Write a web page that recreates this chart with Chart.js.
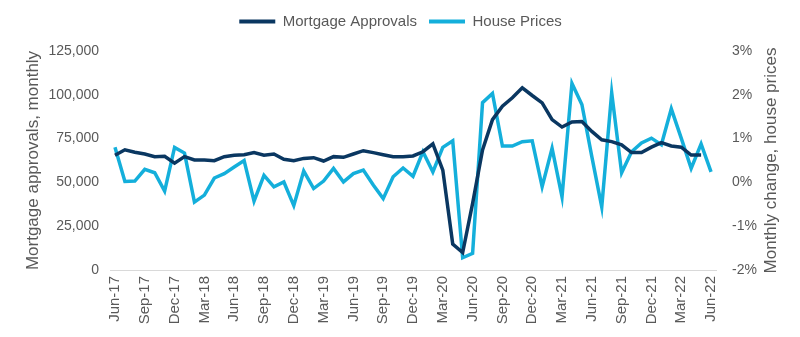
<!DOCTYPE html>
<html>
<head>
<meta charset="utf-8">
<script src="https://cdn.jsdelivr.net/npm/chart.js@4"></script>
<style>
    html, body { margin: 0; padding: 0; background: #fff; }
    #wrap { width: 800px; height: 337px; position: relative; }
</style>
</head>
<body>
<div id="wrap"><canvas id="housingChart"></canvas></div>
<script>
const months = [
    'Jun-17', 'Jul-17', 'Aug-17', 'Sep-17', 'Oct-17', 'Nov-17', 'Dec-17', 'Jan-18', 'Feb-18', 'Mar-18',
    'Apr-18', 'May-18', 'Jun-18', 'Jul-18', 'Aug-18', 'Sep-18', 'Oct-18', 'Nov-18', 'Dec-18', 'Jan-19',
    'Feb-19', 'Mar-19', 'Apr-19', 'May-19', 'Jun-19', 'Jul-19', 'Aug-19', 'Sep-19', 'Oct-19', 'Nov-19',
    'Dec-19', 'Jan-20', 'Feb-20', 'Mar-20', 'Apr-20', 'May-20', 'Jun-20', 'Jul-20', 'Aug-20', 'Sep-20',
    'Oct-20', 'Nov-20', 'Dec-20', 'Jan-21', 'Feb-21', 'Mar-21', 'Apr-21', 'May-21', 'Jun-21', 'Jul-21',
    'Aug-21', 'Sep-21', 'Oct-21', 'Nov-21', 'Dec-21', 'Jan-22', 'Feb-22', 'Mar-22', 'Apr-22', 'May-22',
    'Jun-22'
];

// mortgage approvals per month (no figure yet for Jun-22)
const approvals = [
    65500, 68600, 67200, 66200, 64700, 64900, 61000, 64700, 62800, 62800,
    62400, 64700, 65500, 65800, 67000, 65500, 66200, 63200, 62400, 63700,
    64100, 62200, 64700, 64300, 66200, 68100, 67000, 65800, 64700, 64700,
    65100, 67500, 72000, 57000, 14800, 10000, 38000, 68500, 85800, 93500,
    98300, 104000, 99600, 95400, 85800, 81600, 84500, 84800, 79100, 74300,
    73300, 71400, 67000, 67000, 70100, 72700, 70800, 70100, 65600, 65600,
    null
];

// monthly change in house prices, %
const housePrices = [
    0.80, 0.02, 0.03, 0.30, 0.22, -0.20, 0.80, 0.67, -0.45, -0.29,
    0.10, 0.20, 0.35, 0.50, -0.43, 0.16, -0.10, 0.01, -0.53, 0.26,
    -0.14, 0.03, 0.32, 0.01, 0.20, 0.28, -0.06, -0.37, 0.13, 0.33,
    0.14, 0.70, 0.24, 0.80, 0.95, -1.72, -1.62, 1.82, 2.03, 0.83,
    0.83, 0.93, 0.95, -0.10, 0.78, -0.33, 2.26, 1.78, 0.59, -0.56,
    2.05, 0.22, 0.70, 0.90, 1.01, 0.86, 1.68, 1.01, 0.32, 0.88,
    0.24
];

const navy = '#0a3761';
const cyan = '#14afdb';
const textGrey = '#595959';
const fontFamily = '"Liberation Sans", Arial, sans-serif';

// leave a bit more room under the legend
const legendGap = {
    id: 'legendGap',
    beforeInit(chart) {
        const fit = chart.legend.fit;
        chart.legend.fit = function () {
            fit.call(this);
            this.height += 12;
        };
    }
};

// right axis title reads bottom-to-top like the left one
const rightTitle = {
    id: 'rightTitle',
    afterDraw(chart) {
        const scale = chart.scales.y1;
        const ctx = chart.ctx;
        ctx.save();
        ctx.translate(scale.right - 11, (chart.chartArea.top + chart.chartArea.bottom) / 2);
        ctx.rotate(-Math.PI / 2);
        ctx.font = '17px ' + fontFamily;
        ctx.fillStyle = textGrey;
        ctx.textAlign = 'center';
        ctx.textBaseline = 'middle';
        ctx.fillText('Monthly change, house prices', 0, 0);
        ctx.restore();
    }
};

const ctx = document.getElementById('housingChart').getContext('2d');
new Chart(ctx, {
    type: 'line',
    data: {
        labels: months,
        datasets: [{
            label: 'Mortgage Approvals',
            data: approvals,
            borderColor: navy,
            backgroundColor: navy,
            borderWidth: 3.5,
            pointRadius: 0,
            tension: 0,
            yAxisID: 'y'
        }, {
            label: 'House Prices',
            data: housePrices,
            borderColor: cyan,
            backgroundColor: cyan,
            borderWidth: 3.5,
            pointRadius: 0,
            tension: 0,
            yAxisID: 'y1'
        }]
    },
    options: {
        responsive: true,
        maintainAspectRatio: false,
        animation: false,
        layout: {
            padding: { left: 19, right: 18, top: 2, bottom: 0 }
        },
        plugins: {
            tooltip: { enabled: false },
            legend: {
                position: 'top',
                labels: {
                    color: textGrey,
                    font: { family: fontFamily, size: 15 },
                    boxWidth: 36,
                    boxHeight: 4,
                    padding: 12,
                    generateLabels: chart => Chart.defaults.plugins.legend.labels.generateLabels(chart)
                        .map(item => ({ ...item, lineWidth: 0 }))
                }
            }
        },
        scales: {
            x: {
                offset: true,
                grid: { display: false, drawTicks: false },
                border: { display: true, color: '#d9d9d9', width: 1 },
                ticks: {
                    autoSkip: false,
                    minRotation: 90,
                    maxRotation: 90,
                    padding: 6,
                    color: textGrey,
                    font: { family: fontFamily, size: 15 },
                    callback: function (value, index) {
                        return index % 3 === 0 ? this.getLabelForValue(value) : '';
                    }
                },
                afterFit: s => { s.height = 67; }
            },
            y: {
                position: 'left',
                min: 0,
                max: 125000,
                grid: { display: false, drawTicks: false },
                border: { display: false },
                ticks: {
                    stepSize: 25000,
                    padding: 11,
                    color: textGrey,
                    font: { family: fontFamily, size: 14 },
                    callback: v => v.toLocaleString('en-GB')
                },
                title: {
                    display: true,
                    text: 'Mortgage approvals, monthly',
                    color: textGrey,
                    font: { family: fontFamily, size: 17 },
                    padding: { top: 4, bottom: 4 }
                },
                afterFit: s => { s.width = 91; }
            },
            y1: {
                position: 'right',
                min: -2,
                max: 3,
                grid: { display: false, drawTicks: false },
                border: { display: false },
                ticks: {
                    stepSize: 1,
                    padding: 16,
                    color: textGrey,
                    font: { family: fontFamily, size: 14 },
                    callback: v => v + '%'
                },
                afterFit: s => { s.width = 66; }
            }
        }
    },
    plugins: [legendGap, rightTitle]
});
</script>
</body>
</html>
